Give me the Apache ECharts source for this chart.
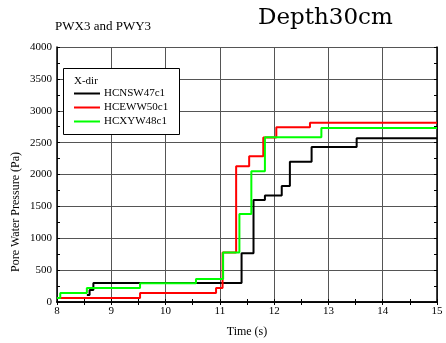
<!DOCTYPE html>
<html>
<head>
<meta charset="utf-8">
<script src="https://cdn.jsdelivr.net/npm/echarts@6/dist/echarts.min.js"></script>
<style>
  html, body { margin: 0; padding: 0; background: #fff; }
  #chart { width: 446px; height: 343px; }
</style>
</head>
<body>
<div id="chart"></div>
<script>
// step data: [time (s), pressure (Pa)] - value holds from that time on
var hcnsw47c1 = [[8.55, 110], [8.60, 190], [8.67, 300], [11.40, 765], [11.62, 1600], [11.83, 1670],
  [12.14, 1820], [12.29, 2200], [12.69, 2430], [13.52, 2570], [15, 2570]]
var hceww50c1 = [[8.0, 62], [9.53, 140], [10.93, 220], [11.05, 775], [11.30, 2130], [11.54, 2285],
  [11.80, 2580], [12.04, 2740], [12.66, 2810], [15, 2810]]
var hcxyw48c1 = [[8.0, 62], [8.06, 140], [8.55, 218], [9.53, 295], [10.56, 362], [11.06, 775],
  [11.36, 1380], [11.58, 2050], [11.83, 2585], [12.87, 2730], [15, 2730]]
var seriesNames = ['HCNSW47c1', 'HCEWW50c1', 'HCXYW48c1']
var seriesColors = ['#000000', '#ff0000', '#00ff00']

var serif = '"Liberation Serif", "Times New Roman", serif'
var chart = echarts.init(document.getElementById('chart'))

function mkSeries(name, data, color) {
  return {
    name: name,
    type: 'line',
    step: 'end',
    data: data,
    symbol: 'none',
    lineStyle: { color: color, width: 2 },
    itemStyle: { color: color },
    animation: false
  }
}

var axisBase = {
  axisLine: { show: true, lineStyle: { color: '#000', width: 1.5 } },
  axisTick: { show: true, inside: true, length: 3, lineStyle: { color: '#000' } },
  minorTick: { show: true, splitNumber: 2, length: 3, lineStyle: { color: '#000' } },
}

chart.setOption({
  animation: false,
  grid: { left: 57, right: 9, top: 47, bottom: 39 },
  xAxis: [
    Object.assign({
      type: 'value', min: 8, max: 15, interval: 1, position: 'bottom',
      name: 'Time (s)', nameLocation: 'middle', nameGap: 24,
      nameTextStyle: { fontFamily: serif, fontSize: 12, color: '#000' },
      axisLabel: { fontFamily: serif, fontSize: 11, color: '#000', margin: 4 },
      splitLine: { show: true, lineStyle: { color: '#555', width: 1 } },
    }, axisBase),
    Object.assign({
      type: 'value', min: 8, max: 15, interval: 1, position: 'top',
      axisLabel: { show: false }, splitLine: { show: false }
    }, axisBase)
  ],
  yAxis: [
    Object.assign({
      type: 'value', min: 0, max: 4000, interval: 500, position: 'left',
      axisLabel: { fontFamily: serif, fontSize: 11, color: '#000', margin: 5,
        formatter: function (v) { return String(v) } },
      splitLine: { show: true, lineStyle: { color: '#555', width: 1 } },
    }, axisBase),
    Object.assign({
      type: 'value', min: 0, max: 4000, interval: 500, position: 'right',
      axisLabel: { show: false }, splitLine: { show: false }
    }, axisBase)
  ],
  legend: {
    data: seriesNames,
    orient: 'vertical',
    left: 74, top: 87, z: 20, padding: 0,
    itemWidth: 26, itemHeight: 2, itemGap: 1,
    icon: 'rect',
    textStyle: { fontFamily: serif, fontSize: 11, lineHeight: 13, color: '#000', padding: [0, 0, 0, -1] }
  },
  graphic: [
    {
      type: 'rect', left: 63, top: 68, z: 5,
      shape: { width: 116, height: 66 },
      style: { fill: '#fff', stroke: '#000', lineWidth: 1 }
    },
    {
      type: 'text', left: 74, top: 76, z: 21,
      style: { text: 'X-dir', font: '11px ' + serif, fill: '#000' }
    },
    {
      type: 'text', left: 55, top: 20,
      style: { text: 'PWX3 and PWY3', font: '13px ' + serif, fill: '#000' }
    },
    {
      type: 'text', left: 258, top: 7,
      style: { text: 'Depth30cm', font: '23px "DejaVu Serif", serif', fill: '#000' }
    },
    {
      type: 'text', x: 10, y: 212, rotation: Math.PI / 2,
      style: { text: 'Pore Water Pressure (Pa)', font: '12px ' + serif, fill: '#000', align: 'center', verticalAlign: 'top' }
    }
  ],
  series: [
    mkSeries(seriesNames[0], hcnsw47c1, seriesColors[0]),
    mkSeries(seriesNames[1], hceww50c1, seriesColors[1]),
    mkSeries(seriesNames[2], hcxyw48c1, seriesColors[2])
  ]
})
</script>
</body>
</html>
